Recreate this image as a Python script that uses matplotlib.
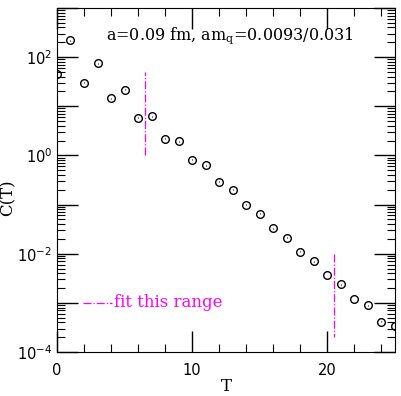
import numpy as np
import matplotlib.pyplot as plt
from matplotlib.ticker import MultipleLocator, LogLocator, NullFormatter

# correlator values
T = np.arange(0, 26)
C = [46, 220, 30, 75, 14.4, 21.5, 5.9, 6.3, 2.2, 1.94,
     0.82, 0.63, 0.29, 0.20, 0.0986, 0.065, 0.033, 0.021, 0.011, 0.0070,
     0.0037, 0.0024, 0.0012, 0.00089, 0.00041, 0.00034]
C_err = [0.02 * c for c in C]

fit_lo, fit_hi = 6.5, 20.5
fit_lo_span = [1.0, 50]
fit_hi_span = [1e-2, 2e-4]

decades = [1e-4, 1e-3, 1e-2, 1e-1, 1e0, 1e1, 1e2, 1e3]
decade_labels = [r'$10^{-4}$', '', r'$10^{-2}$', '', r'$10^{0}$', '', r'$10^{2}$', '']

fig = plt.figure(figsize=(4.01, 3.96), dpi=100)
ax = fig.add_axes([0.142, 0.111, 0.843, 0.869])

ax.errorbar(T, C, yerr=C_err, fmt='o', mfc='none', mec='black', ecolor='black',
            ms=5.5, mew=1.0, elinewidth=0.8, capsize=0)

ax.plot([fit_lo, fit_lo], fit_lo_span, color='magenta', ls='-.', lw=0.9)
ax.plot([fit_hi, fit_hi], fit_hi_span, color='magenta', ls='-.', lw=0.9)

# legend-like note
ax.plot([1.9, 4.1], [1e-3, 1e-3], color='magenta', ls='-.', lw=0.9)
ax.text(4.2, 1e-3, 'fit this range', color='magenta', fontsize=12,
        family='DejaVu Serif', va='center', ha='left')

ax.text(3.6, 10**2.43, r'a=0.09 fm, am$_\mathregular{q}$=0.0093/0.031',
        fontsize=11.5, family='DejaVu Serif', va='center', ha='left')

ax.set_yscale('log')
ax.set_xlim(0, 25)
ax.set_ylim(1e-4, 1e3)
ax.xaxis.set_major_locator(MultipleLocator(10))
ax.xaxis.set_minor_locator(MultipleLocator(2))
ax.set_yticks(decades)
ax.set_yticklabels(decade_labels)
ax.yaxis.set_minor_locator(LogLocator(base=10, subs=np.arange(2, 10), numticks=20))
ax.yaxis.set_minor_formatter(NullFormatter())

ax.tick_params(which='both', direction='in', top=True, right=True, labelsize=10.5)
ax.tick_params(which='major', length=15, width=1)
ax.tick_params(which='minor', length=6, width=0.8)
ax.tick_params(axis='x', which='major', pad=8)

ax.set_xlabel('T', fontsize=12, family='DejaVu Serif', labelpad=0)
ax.set_ylabel('C(T)', fontsize=12, family='DejaVu Serif')
ax.yaxis.set_label_coords(-0.12, 0.45)

fig.savefig('out.png', dpi=100)
